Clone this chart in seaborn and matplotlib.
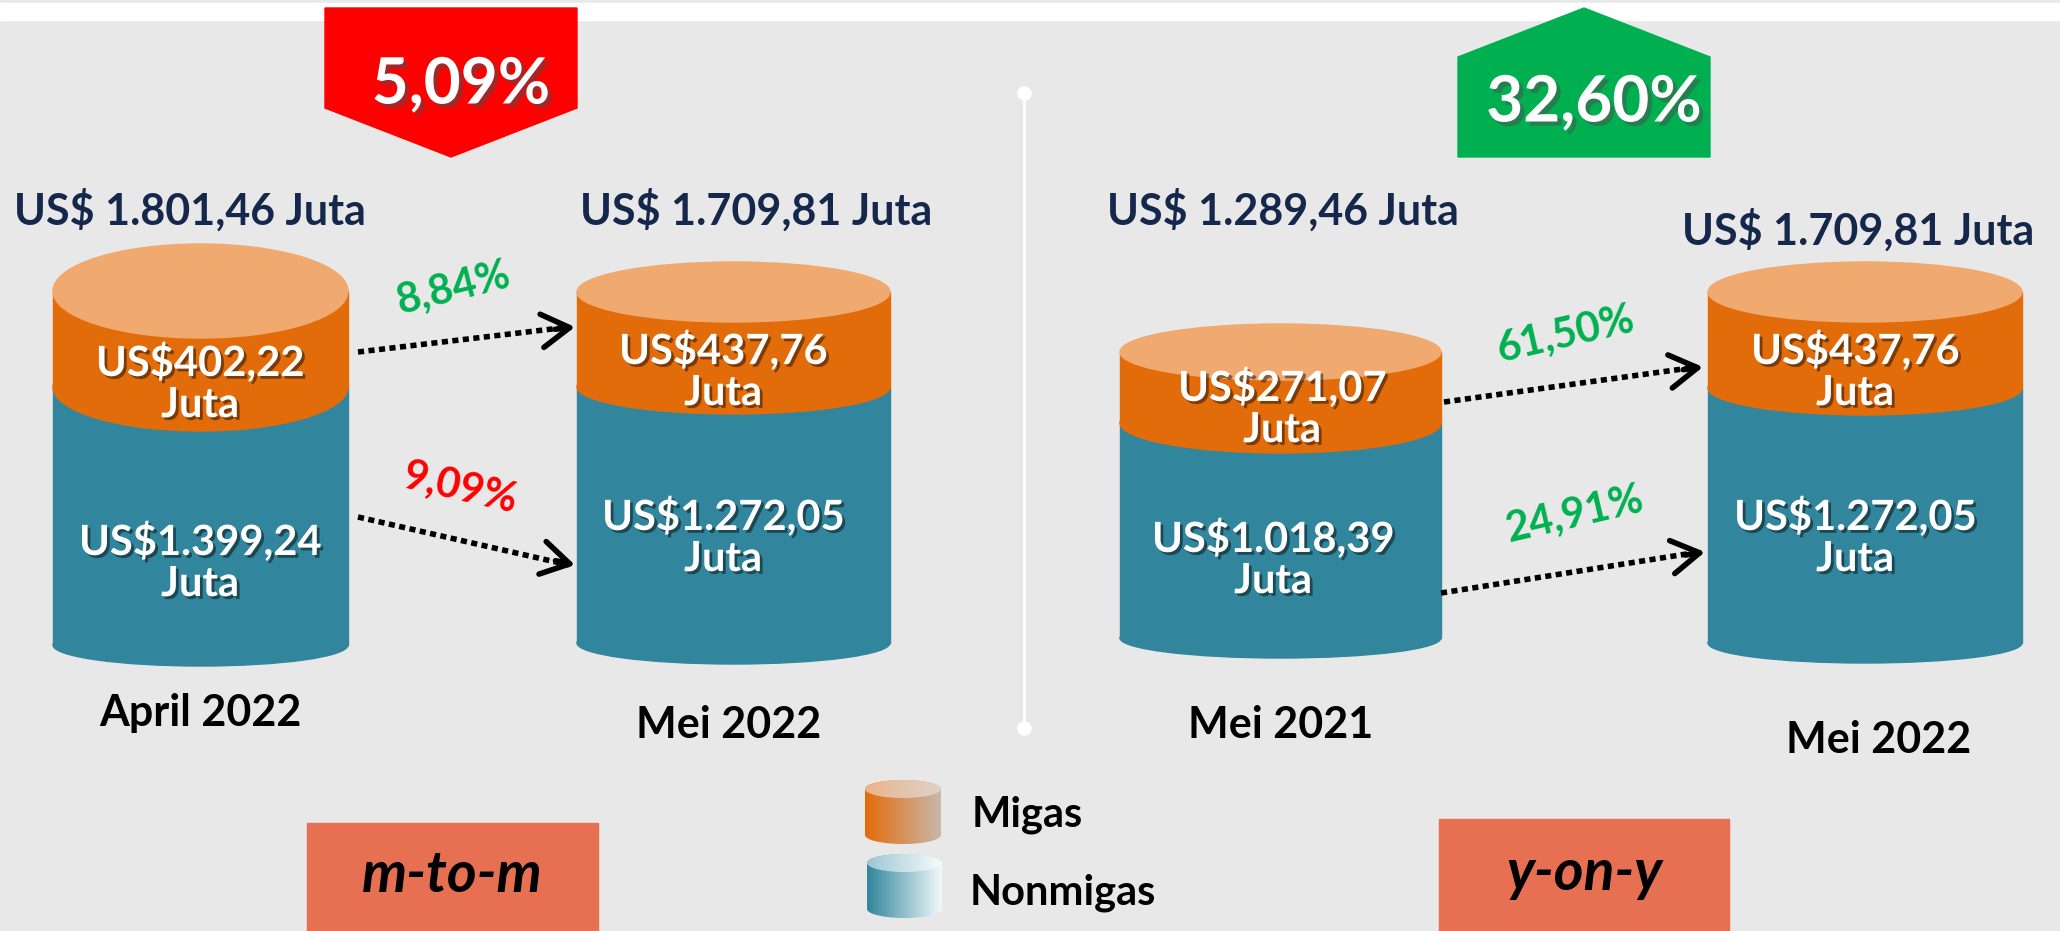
import numpy as np
import seaborn as sns
import matplotlib.pyplot as plt
import matplotlib.patheffects as pe
from matplotlib.colors import to_rgb
from matplotlib.patches import Ellipse, Rectangle, Polygon, PathPatch
from matplotlib.path import Path

# -------------------------
# data
# -------------------------
periode = ['April 2022', 'Mei 2022', 'Mei 2021', 'Mei 2022']
total = [1801.46, 1709.81, 1289.46, 1709.81]
migas = [402.22, 437.76, 271.07, 437.76]
nonmigas = [1399.24, 1272.05, 1018.39, 1272.05]
pertumbuhan_migas = [8.84, 61.50]       # m-to-m, y-on-y
pertumbuhan_nonmigas = [-9.09, 24.91]
perubahan_total = [-5.09, 32.60]
judul_panel = ['m-to-m', 'y-on-y']
legenda = ['Migas', 'Nonmigas']

# -------------------------
# style
# -------------------------
sns.set_theme(style='white')
plt.rcParams['font.family'] = ['Lato', 'DejaVu Sans']

BG = '#e8e8e8'
ORANGE = '#e36c0a'
ORANGE_TOP = '#f0a96e'
TEAL = '#31859c'
NAVY = '#15284b'
GREEN = '#00b050'
RED = '#ff0000'
SALMON = '#e77053'


def fmt(v):
    s = f'{abs(v):,.2f}'
    return s.replace(',', 'X').replace('.', ',').replace('X', '.')


shadow = [pe.SimplePatchShadow(offset=(2, -2), shadow_rgbFace='black', alpha=0.45), pe.Normal()]

fig = plt.figure(figsize=(20.6, 9.31), dpi=100)
fig.patch.set_facecolor(BG)
ax = fig.add_axes([0, 0, 1, 1])
ax.set_xlim(0, 2060)
ax.set_ylim(931, 0)
ax.axis('off')
ax.axhspan(3, 20, color='white', zorder=0)

# -------------------------
# cylinders (layout: x0, x1, top, split, bottom, ry top, ry split, ry bottom)
# -------------------------
cyl = [(53, 348, 291, 387, 645, 47, 44, 21),
       (577, 890, 292, 387, 643, 30, 27, 21),
       (1120, 1441, 352, 423, 638, 28, 30, 20),
       (1708, 2022, 292, 388, 643, 30, 27, 20)]
pos_migas = [(200, 383), (723, 371), (1282, 408), (1855, 371)]
pos_non = [(200, 562), (723, 537), (1273, 559), (1855, 537)]
pos_total = [(190, 210), (756, 210), (1283, 210), (1858, 230)]
pos_periode = [(200, 713), (729, 725), (1281, 725), (1879, 740)]

for i, (x0, x1, top, mid, bot, ryt, rym, ryb) in enumerate(cyl):
    w = x1 - x0
    cx = (x0 + x1) / 2
    ax.add_patch(Ellipse((cx, bot), w, 2 * ryb, color=TEAL, zorder=2))
    ax.add_patch(Rectangle((x0, mid), w, bot - mid, color=TEAL, zorder=2))
    ax.add_patch(Ellipse((cx, mid), w, 2 * rym, color=ORANGE, zorder=3))
    ax.add_patch(Rectangle((x0, top), w, mid - top, color=ORANGE, zorder=3))
    ax.add_patch(Ellipse((cx, top), w, 2 * ryt, color=ORANGE_TOP, zorder=4))

    ax.text(*pos_migas[i], f'US${fmt(migas[i])}\nJuta', ha='center', va='center',
            color='white', fontsize=30, fontweight='bold', linespacing=1.1,
            zorder=6, path_effects=shadow)
    ax.text(*pos_non[i], f'US${fmt(nonmigas[i])}\nJuta', ha='center', va='center',
            color='white', fontsize=30, fontweight='bold', linespacing=1.1,
            zorder=6, path_effects=shadow)
    ax.text(*pos_total[i], f'US$ {fmt(total[i])} Juta', ha='center', va='center',
            color=NAVY, fontsize=31, fontweight='bold', zorder=6)
    ax.text(*pos_periode[i], periode[i], ha='center', va='center',
            color='black', fontsize=31, fontweight='bold', zorder=6)

# -------------------------
# growth arrows
# -------------------------
panah = [((358, 352), (575, 327)), ((358, 517), (575, 565)),
         ((1444, 402), (1703, 367)), ((1441, 593), (1705, 552))]
pos_label = [((453, 288), 14), ((460, 488), -13), ((1565, 335), 13), ((1575, 515), 13)]
nilai = [pertumbuhan_migas[0], pertumbuhan_nonmigas[0],
         pertumbuhan_migas[1], pertumbuhan_nonmigas[1]]

for (p0, p1), (lp, rot), v in zip(panah, pos_label, nilai):
    ax.plot([p0[0], p1[0] - 6], [p0[1], p1[1]], color='black', lw=4,
            linestyle=(0, (1.1, 0.8)), solid_capstyle='butt', zorder=5)
    d = np.array(p1) - np.array(p0)
    back = np.array(p1) - d / np.linalg.norm(d) * 20
    ax.annotate('', xy=p1, xytext=back,
                arrowprops=dict(arrowstyle='->,head_length=1.0,head_width=0.6',
                                lw=4, color='black', mutation_scale=20,
                                shrinkA=0, shrinkB=0), zorder=5)
    ax.text(*lp, f'{fmt(v)}%', ha='center', va='center', rotation=rot,
            rotation_mode='anchor', color=GREEN if v > 0 else RED,
            fontsize=30, fontweight='bold', zorder=6)

# -------------------------
# badges for total change
# -------------------------
badge = [(325, 577), (1458, 1710)]
for (bx0, bx1), v in zip(badge, perubahan_total):
    bcx = (bx0 + bx1) / 2
    if v < 0:
        pts = [(bx0, 8), (bx1, 8), (bx1, 108), (bcx, 157), (bx0, 108)]
        ty = 85
        col = RED
    else:
        pts = [(bx0, 157), (bx0, 57), (bcx, 8), (bx1, 57), (bx1, 157)]
        ty = 103
        col = GREEN
    ax.add_patch(Polygon(pts, closed=True, color=col, zorder=3))
    ax.text(bcx + 10, ty, f'{fmt(v)}%', ha='center', va='center', color='white',
            fontsize=46, fontweight='bold', zorder=6,
            path_effects=[pe.SimplePatchShadow(offset=(3, -3), alpha=0.5), pe.Normal()])

# divider
ax.plot([1024, 1024], [93, 728], color='white', lw=2, zorder=1)
ax.scatter([1024, 1024], [93, 728], s=90, color='white', zorder=2)

# -------------------------
# panel boxes
# -------------------------
kotak = [(307, 823, 291), (1439, 819, 290)]
for (kx, ky, kw), t in zip(kotak, judul_panel):
    ax.add_patch(Rectangle((kx, ky), kw, 931 - ky, color=SALMON, zorder=2))
    ax.text(kx + kw / 2, ky + (931 - ky) / 2 - 2, t, ha='center', va='center',
            fontsize=41, fontweight='bold', style='italic', color='black', zorder=6)

# -------------------------
# legend icons with gradients
# -------------------------
def ikon(x0, x1, y0, y1, c_left, c_right, c_top_l, c_top_r):
    w = x1 - x0
    cx = (x0 + x1) / 2
    ry = 9
    t_top = np.linspace(np.pi, 2 * np.pi, 40)
    t_bot = np.linspace(0, np.pi, 40)
    top = np.column_stack([cx + w / 2 * np.cos(t_top), y0 + ry + ry * np.sin(t_top)])
    bot = np.column_stack([cx + w / 2 * np.cos(t_bot), y1 - ry + ry * np.sin(t_bot)])
    verts = np.vstack([top, bot, top[:1]])
    clip = PathPatch(Path(verts), transform=ax.transData, facecolor='none', edgecolor='none')
    ax.add_patch(clip)
    grad = np.linspace(0, 1, 256)
    cl, cr = np.array(to_rgb(c_left)), np.array(to_rgb(c_right))
    img = cl[None, :] * (1 - grad[:, None]) + cr[None, :] * grad[:, None]
    im = ax.imshow(img[None, :, :], extent=(x0, x1, y1, y0), aspect='auto', zorder=4)
    im.set_clip_path(clip)
    el = Ellipse((cx, y0 + ry), w, 2 * ry, transform=ax.transData, facecolor='none', edgecolor='none')
    ax.add_patch(el)
    tl, tr = np.array(to_rgb(c_top_l)), np.array(to_rgb(c_top_r))
    img2 = tl[None, :] * (1 - grad[:, None]) + tr[None, :] * grad[:, None]
    im2 = ax.imshow(img2[None, :, :], extent=(x0, x1, y0 + 2 * ry, y0), aspect='auto', zorder=5)
    im2.set_clip_path(el)


ikon(865, 941, 780, 844, '#e36c0a', '#c9b8ab', '#eab48a', '#ddd3cb')
ikon(867, 942, 854, 918, '#31859c', '#f2f9fb', '#9cc8d4', '#f5fbfc')
ax.text(972, 815, legenda[0], ha='left', va='center', fontsize=30,
        fontweight='bold', color='black', zorder=6)
ax.text(970, 893, legenda[1], ha='left', va='center', fontsize=30,
        fontweight='bold', color='black', zorder=6)

ax.set_xlim(0, 2060)
ax.set_ylim(931, 0)
fig.savefig('out.png', dpi=100, facecolor=BG)
